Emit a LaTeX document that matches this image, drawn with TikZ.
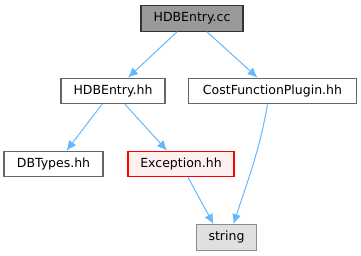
\documentclass[tikz,border=0pt]{standalone}
\usepackage{fontspec}
\setmainfont{DejaVu Sans}
\usepackage{tikz}
\usetikzlibrary{arrows.meta}

\definecolor{edgeblue}{HTML}{63B8FF}
\definecolor{boxgrey}{HTML}{666666}
\definecolor{rootfill}{HTML}{999999}
\definecolor{sysfill}{HTML}{E0E0E0}
\definecolor{errfill}{HTML}{FFF0F0}

\tikzset{
  file/.style={draw=boxgrey, fill=white, line width=1.2pt, minimum height=25.5pt,
    inner xsep=0pt, font=\fontsize{12.5}{14}\selectfont},
  incl/.style={draw=edgeblue, line width=1pt, -{Latex[length=10pt,width=9pt]}}
}

\begin{document}
\begin{tikzpicture}[x=1pt,y=-1pt]
\useasboundingbox (0,0) rectangle (361,256);

\path
(192,18.5) node[file, fill=rootfill, draw=black!80, minimum width=102pt] (cc) {HDBEntry.cc}
(113,91) node[file, minimum width=104pt] (hh) {HDBEntry.hh}
(272.5,91) node[file, minimum width=168pt] (cfp) {CostFunctionPlugin.hh}
(53.5,164) node[file, minimum width=99pt] (dbt) {DBTypes.hh}
(181,164) node[file, fill=errfill, draw=red, minimum width=106pt] (exc) {Exception.hh}
(226.5,237.5) node[file, fill=sysfill, draw=black!45, minimum width=60pt] (str) {string};

% include edges
\draw[incl] ([xshift=-15pt]cc.south) -- ([xshift=15pt]hh.north);
\draw[incl] ([xshift=15pt]cc.south) -- ([xshift=-15pt]cfp.north);
\draw[incl] ([xshift=-11pt]hh.south) -- ([xshift=13pt]dbt.north);
\draw[incl] ([xshift=12pt]hh.south) -- ([xshift=-14pt]exc.north);
\draw[incl] ([xshift=7pt]exc.south) -- ([xshift=-13pt]str.north);
\draw[incl] ([xshift=-5pt]cfp.south) to[out=-100,in=72] ([xshift=7pt]str.north);

\end{tikzpicture}
\end{document}
